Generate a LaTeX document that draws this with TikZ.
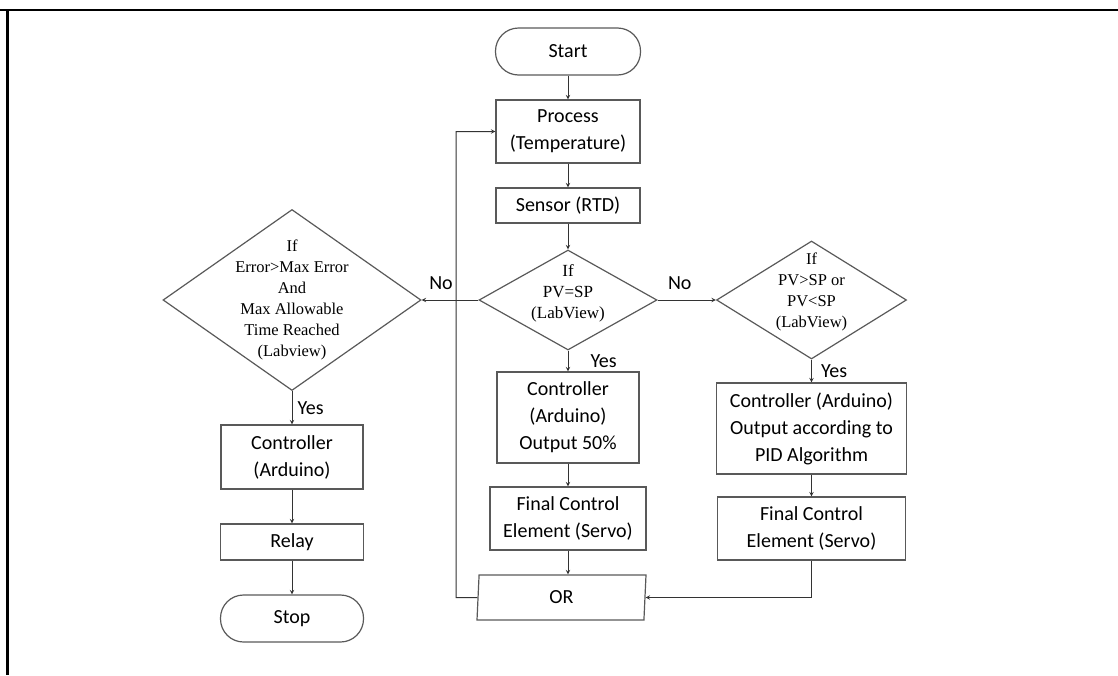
\documentclass[tikz,border=0pt]{standalone}
\usepackage{fontspec}
\newfontfamily\boxfont{Carlito}
\newfontfamily\decfont{Liberation Serif}
\usetikzlibrary{arrows,positioning,shapes.geometric}
\tikzstyle{flow}=[>=stealth,->,draw=black!80,line width=1pt]
\tikzstyle{blk}=[rectangle,draw=black!65,line width=1.2pt,inner sep=0,align=center,%
  text=black,font=\boxfont\fontsize{20}{27}\selectfont]
\tikzstyle{term}=[blk,rounded corners=23pt]
\tikzstyle{decide}=[diamond,draw=black!65,line width=1.2pt,inner sep=0]
\tikzstyle{dtext}=[align=center,inner sep=0,text=black,font=\decfont\fontsize{16.5}{21}\selectfont]
\tikzstyle{lbl}=[inner sep=0,text=black,font=\boxfont\fontsize{20}{24}\selectfont]

\begin{document}
\begin{tikzpicture}[
    x=1pt,y=-1pt,
    orbox/.style={blk,trapezium,trapezium left angle=81,trapezium right angle=99,%
      trapezium stretches body,minimum width=169pt,minimum height=45pt}
    ]
    \useasboundingbox (0,0) rectangle (1118,675);

    % frame
    \draw [line width=2.5pt] (0,10) -- (1118,10);
    \draw [line width=2.5pt] (7.5,10) -- (7.5,675);

    % middle column
    \node [term,minimum width=145pt,minimum height=47pt] (start) at (568,51.5) {Start};
    \node [blk,minimum width=144pt,minimum height=63pt] (process) at (568,131.5) {Process\\(Temperature)};
    \node [blk,minimum width=144pt,minimum height=35pt] (sensor) at (568,205.5) {Sensor (RTD)};
    \node [decide,minimum width=178pt,minimum height=100pt,
      label={[dtext,font=\decfont\fontsize{17}{21}\selectfont,yshift=7pt]center:{If\\PV=SP\\(LabView)}}]
      (pveqsp) at (568,300) {};
    \node [blk,minimum width=142pt,minimum height=91pt] (ctrlhalf) at (568,417.5) {Controller\\(Arduino)\\Output 50\%};
    \node [blk,minimum width=156pt,minimum height=63pt] (servoa) at (568,518.5) {Final Control\\Element (Servo)};
    \node [orbox] (orgate) at (561.5,597.5) {OR};

    % right column
    \node [decide,minimum width=190pt,minimum height=118pt,
      label={[dtext,yshift=8pt]center:{If\\PV>SP or\\PV<SP\\(LabView)}}]
      (pvnesp) at (811.5,300) {};
    \node [blk,minimum width=190pt,minimum height=91pt] (ctrlpid) at (811.5,428.5) {Controller (Arduino)\\Output according to\\PID Algorithm};
    \node [blk,minimum width=188pt,minimum height=63pt] (servob) at (811.5,528.5) {Final Control\\Element (Servo)};

    % left column
    \node [decide,minimum width=258pt,minimum height=181pt,
      label={[dtext]center:{If\\Error>Max Error\\And\\Max Allowable\\Time Reached\\(Labview)}}]
      (maxerr) at (292,300) {};
    \node [blk,minimum width=142pt,minimum height=64pt] (ctrlrelay) at (292,457) {Controller\\(Arduino)};
    \node [blk,minimum width=143pt,minimum height=36pt] (relay) at (292,542) {Relay};
    \node [term,minimum width=143pt,minimum height=47pt] (stop) at (292,618.5) {Stop};

    \coordinate (loopcorner) at (456,597.5);

    % straight runs
    \foreach \a/\b in {start/process,process/sensor,sensor/pveqsp,ctrlhalf/servoa,%
      ctrlpid/servob,ctrlrelay/relay,relay/stop} {
      \draw [flow] (\a) -- (\b);
    }

    % branches
    \draw [flow] (pveqsp.south) -- node [lbl,right=22pt] {Yes} (ctrlhalf.north);
    \draw [flow] (pvnesp.south) -- node [lbl,right=9pt] {Yes} (ctrlpid.north);
    \draw [flow] (maxerr.south) -- node [lbl,right=5pt] {Yes} (ctrlrelay.north);
    \draw [flow] (pveqsp.east) -- node [lbl,above=10pt,xshift=-7pt] {No} (pvnesp.west);
    \draw [flow] (pveqsp.west) -- node [lbl,above=10pt,xshift=-9pt] {No} (maxerr.east);

    % back to the process
    \draw [flow] (servoa.south) -- (servoa.south |- orgate.north);
    \draw [flow] (servob.south) |- (orgate.east);
    \draw [flow] (orgate.west) -- (loopcorner) |- (process.west);
  \end{tikzpicture}
\end{document}
